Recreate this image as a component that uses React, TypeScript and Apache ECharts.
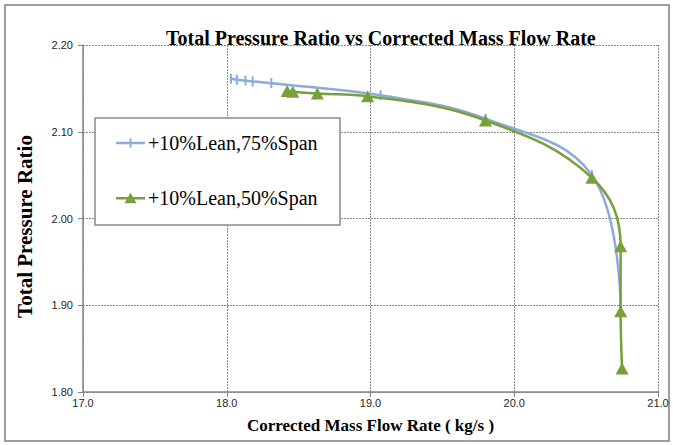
import React, { useEffect, useRef } from "react";
import * as echarts from "echarts";

// Compressor characteristic: corrected mass flow rate (kg/s) vs total pressure ratio
const lean75Flow = [18.03, 18.07, 18.13, 18.18, 18.31, 19.07, 19.8, 20.54, 20.74];
const lean75Ratio = [2.161, 2.16, 2.159, 2.158, 2.156, 2.142, 2.115, 2.05, 1.895];

const lean50Flow = [18.42, 18.46, 18.63, 18.98, 19.8, 20.54, 20.74, 20.74, 20.75];
const lean50Ratio = [2.147, 2.146, 2.144, 2.141, 2.113, 2.047, 1.968, 1.893, 1.827];

const seriesNames = ["+10%Lean,75%Span", "+10%Lean,50%Span"];

const SERIF = "'Liberation Serif', 'Times New Roman', serif";
const SANS = "'Liberation Sans', Arial, sans-serif";

const BLUE = "#8eaadb";
const GREEN = "#78a03a";

// Legend keys: a line segment with the series marker in the middle
const PLUS_KEY = "path://M0,5.8h29v2.5h-29z M13.5,2.5h2v9h-2z";
const TRIANGLE_KEY = "path://M0,5.8h29v2.5h-29z M14.5,1.5L20.5,12L8.5,12z";

const pairs = (xs: number[], ys: number[]) => xs.map((x, i) => [x, ys[i]]);

export default function App() {
  const ref = useRef<HTMLDivElement>(null);

  useEffect(() => {
    if (!ref.current) return;
    const chart = echarts.init(ref.current, undefined, { renderer: "svg" });

    const gridLine = { show: true, lineStyle: { color: "#8a8a8a", type: [2, 1], width: 1 } };
    const axisLine = { show: true, lineStyle: { color: "#868686", width: 1.5 } };

    chart.setOption({
      animation: false,
      backgroundColor: "#ffffff",
      title: {
        text: "Total Pressure Ratio vs Corrected Mass Flow Rate",
        left: 161,
        top: 23,
        textStyle: { fontFamily: SERIF, fontWeight: "bold", fontSize: 20, color: "#000" },
      },
      graphic: [
        {
          type: "rect",
          shape: { x: 5, y: 5, width: 664, height: 436 },
          style: { fill: "none", stroke: "#7f7f7f", lineWidth: 1.5 },
          silent: true,
          z: -10,
        },
        {
          type: "rect",
          shape: { x: 95, y: 118, width: 245, height: 107 },
          style: { fill: "#ffffff", stroke: "#8a8a8a", lineWidth: 1.5 },
          silent: true,
          z: 20,
        },
      ],
      legend: {
        orient: "vertical",
        left: 116,
        top: 133,
        padding: 0,
        itemWidth: 29,
        itemHeight: 14,
        itemGap: 35,
        z: 30,
        data: [
          { name: seriesNames[0], icon: PLUS_KEY },
          { name: seriesNames[1], icon: TRIANGLE_KEY },
        ],
        textStyle: { fontFamily: SERIF, fontSize: 20, color: "#000", padding: [0, 0, 0, -2] },
      },
      grid: { left: 83, right: 15, top: 45, bottom: 53 },
      xAxis: {
        type: "value",
        min: 17,
        max: 21,
        interval: 1,
        name: "Corrected Mass Flow Rate ( kg/s )",
        nameLocation: "middle",
        nameGap: 25,
        nameTextStyle: { fontFamily: SERIF, fontWeight: "bold", fontSize: 17, color: "#000" },
        axisLine,
        axisTick: { show: true, length: 5, lineStyle: { color: "#868686" } },
        axisLabel: {
          fontFamily: SANS,
          fontSize: 11,
          color: "#262626",
          margin: 5,
          formatter: (v: number) => v.toFixed(1),
        },
        splitLine: gridLine,
      },
      yAxis: {
        type: "value",
        min: 1.8,
        max: 2.2,
        interval: 0.1,
        name: "Total Pressure Ratio",
        nameLocation: "middle",
        nameGap: 48,
        nameTextStyle: {
          fontFamily: SERIF,
          fontWeight: "bold",
          fontSize: 21,
          color: "#000",
          padding: [0, 16, 0, 0],
        },
        axisLine,
        axisTick: { show: true, length: 5, lineStyle: { color: "#868686" } },
        axisLabel: {
          fontFamily: SANS,
          fontSize: 11,
          color: "#262626",
          margin: 10,
          formatter: (v: number) => v.toFixed(2),
        },
        splitLine: gridLine,
      },
      series: [
        {
          name: seriesNames[0],
          type: "line",
          data: pairs(lean75Flow, lean75Ratio),
          smooth: 0.4,
          symbol: "path://M0,0h1v10h-1z",
          symbolSize: [2, 10],
          lineStyle: { color: BLUE, width: 2.5 },
          itemStyle: { color: BLUE },
          z: 2,
        },
        {
          name: seriesNames[1],
          type: "line",
          data: pairs(lean50Flow, lean50Ratio),
          smooth: 0.4,
          symbol: "triangle",
          symbolSize: [13, 12],
          lineStyle: { color: GREEN, width: 2.5 },
          itemStyle: { color: GREEN },
          z: 3,
        },
      ],
    });

    return () => chart.dispose();
  }, []);

  return (
    <div
      ref={ref}
      style={{ position: "fixed", left: 0, top: 0, width: 673, height: 445, background: "#fff" }}
    />
  );
}
